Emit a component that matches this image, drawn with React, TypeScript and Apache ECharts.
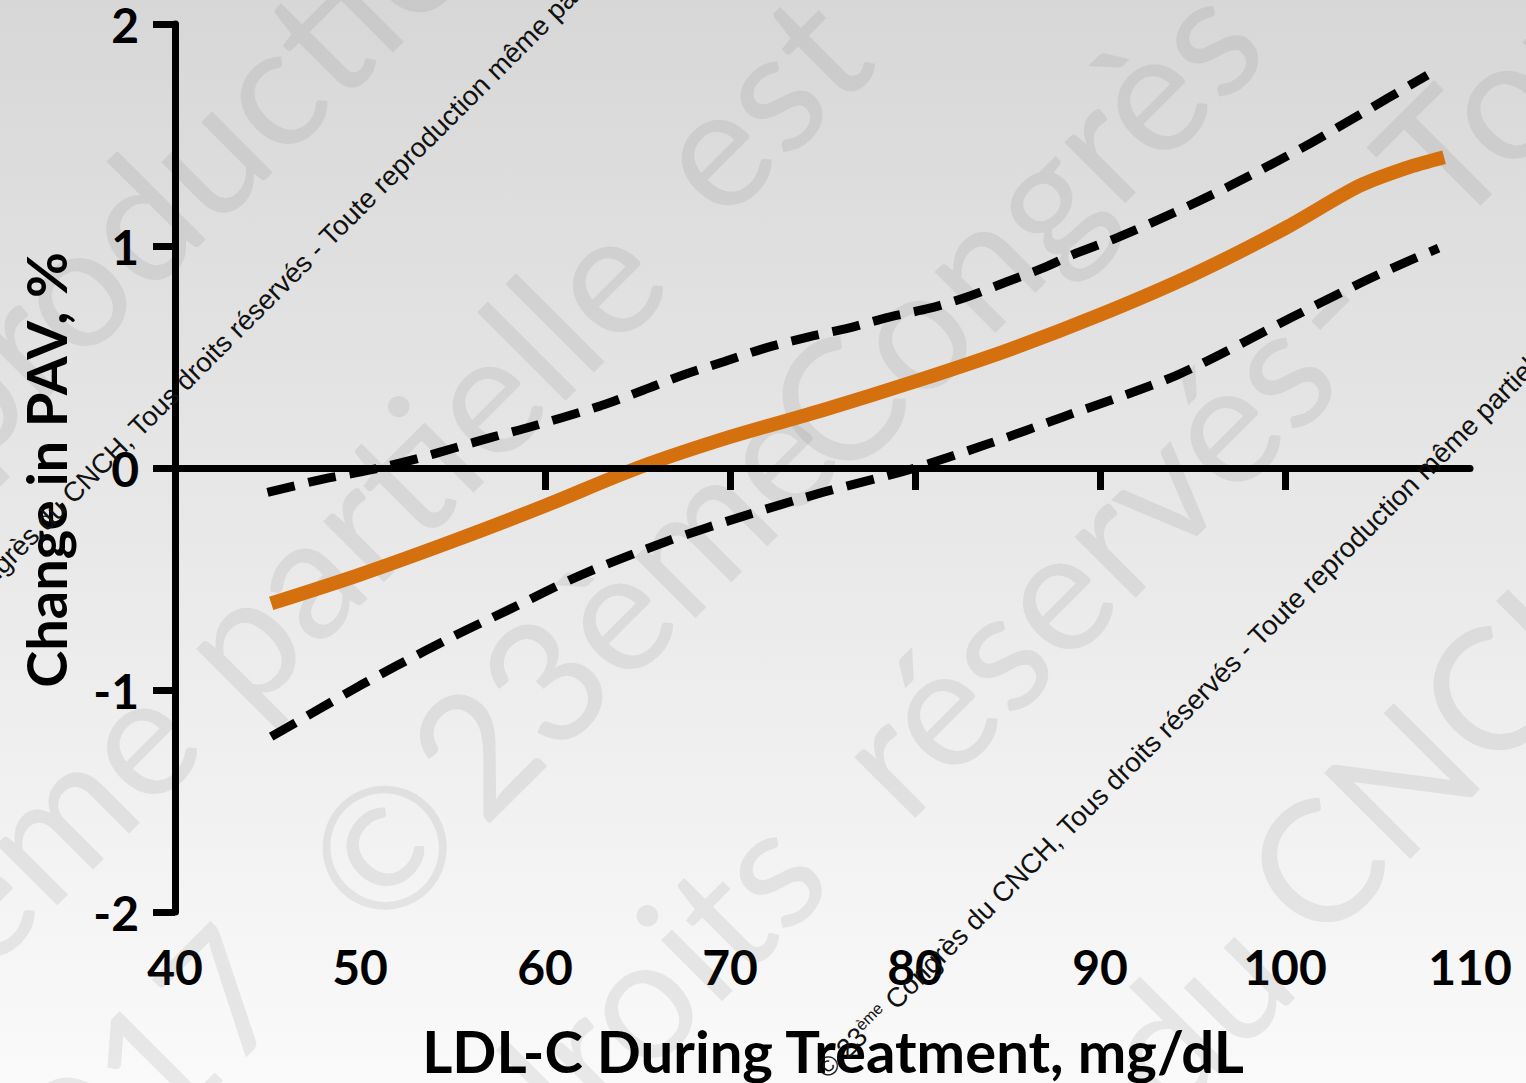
import React, { useEffect, useRef } from "react";
import * as echarts from "echarts";

// LDL-C during treatment (mg/dL) vs. change in percent atheroma volume (%)
const meanX = [45.2, 50, 55, 60, 65, 70, 75, 80, 85, 90, 95, 100, 104, 106.5, 108.6];
const meanY = [-0.61, -0.48, -0.33, -0.17, 0.0, 0.14, 0.26, 0.39, 0.53, 0.69, 0.87, 1.08, 1.27, 1.35, 1.4];

const upperX = [45, 48, 50.5, 53, 55.1, 57.2, 59, 63, 65.3, 67.5, 69.7, 71.9, 74.2, 76.4, 78.6, 80.8, 82.8, 85, 86.9, 88.5, 91, 94, 97, 101.1, 104, 107.7];
const upperY = [-0.11, -0.05, -0.01, 0.04, 0.09, 0.14, 0.18, 0.28, 0.35, 0.42, 0.48, 0.54, 0.59, 0.63, 0.68, 0.72, 0.77, 0.84, 0.9, 0.96, 1.04, 1.15, 1.27, 1.45, 1.59, 1.77];

const lowerX = [45.2, 47.5, 50, 52, 55, 58, 62, 66.6, 70.6, 75, 79.6, 84, 88, 94.2, 100.4, 104, 106.6, 108.3];
const lowerY = [-1.21, -1.1, -0.98, -0.89, -0.76, -0.64, -0.48, -0.33, -0.22, -0.11, -0.01, 0.11, 0.23, 0.42, 0.68, 0.83, 0.93, 0.99];

const xTickValues = [60, 70, 80, 90, 100];
const xTitle = "LDL-C During Treatment, mg/dL";
const yTitle = "Change in PAV, %";

const noticeText =
  "© 23{sup|ème} Congrès du CNCH, Tous droits réservés - Toute reproduction même partielle est interdite";

// large faint words laid diagonally across the slide
const bigWords: { text: string; x: number; y: number }[] = [
  { text: "reproduction", x: 160, y: 192 },
  { text: "même", x: 2, y: 867 },
  { text: "partielle", x: 416, y: 457 },
  { text: "est", x: 755, y: 100 },
  { text: "2017", x: 115, y: 1095 },
  { text: "©", x: 381, y: 844 },
  { text: "23ème", x: 620, y: 600 },
  { text: "Congrès", x: 1010, y: 225 },
  { text: "droits", x: 640, y: 990 },
  { text: "réservés", x: 1080, y: 560 },
  { text: "-", x: 1320, y: 300 },
  { text: "Toute", x: 1553, y: 40 },
  { text: "du", x: 1190, y: 1010 },
  { text: "CNCH,", x: 1458, y: 718 },
];

const pairs = (xs: number[], ys: number[]) => xs.map((x, i) => [x, ys[i]]);

export default function App() {
  const ref = useRef<HTMLDivElement>(null);

  useEffect(() => {
    if (!ref.current) return;
    const chart = echarts.init(ref.current, undefined, { renderer: "svg" });

    const bold = { fontFamily: "Lato", fontWeight: "bold" as const, color: "#000" };

    const graphics: any[] = [
      ...bigWords.map((w) => ({
        type: "text",
        x: w.x,
        y: w.y,
        rotation: Math.PI / 4,
        z: 1,
        silent: true,
        style: {
          text: w.text,
          fontFamily: "Lato",
          fontSize: 170,
          fill: "rgba(90,90,90,0.11)",
          align: "center",
          verticalAlign: "middle",
        },
      })),
      ...[
        [-98, 683],
        [831, 1083],
      ].map(([x, y]) => ({
        type: "text",
        x,
        y,
        rotation: Math.PI / 4,
        z: 100,
        silent: true,
        style: {
          text: noticeText,
          fontFamily: "Liberation Sans",
          fontSize: 27.5,
          fill: "#111",
          align: "left",
          verticalAlign: "bottom",
          rich: {
            sup: { fontFamily: "Liberation Sans", fontSize: 16, fill: "#111", verticalAlign: "top" },
          },
        },
      })),
      {
        type: "text",
        x: 45,
        y: 470,
        rotation: Math.PI / 2,
        z: 50,
        style: {
          text: yTitle,
          fontFamily: "Lato",
          fontWeight: "bold",
          fontSize: 56,
          fill: "#000",
          align: "center",
          verticalAlign: "middle",
        },
      },
      {
        type: "text",
        x: 833,
        y: 1050,
        z: 50,
        style: {
          text: xTitle,
          fontFamily: "Lato",
          fontWeight: "bold",
          fontSize: 58,
          fill: "#000",
          align: "center",
          verticalAlign: "middle",
        },
      },
    ];

    chart.setOption({
      animation: false,
      backgroundColor: {
        type: "linear",
        x: 0,
        y: 0,
        x2: 0,
        y2: 1,
        colorStops: [
          { offset: 0, color: "#d7d7d7" },
          { offset: 1, color: "#fafafa" },
        ],
      },
      grid: { left: 175, right: 56, top: 18, bottom: 171, containLabel: false },
      xAxis: [
        {
          type: "value",
          min: 40,
          max: 110,
          interval: 10,
          position: "bottom",
          z: 5,
          axisLine: { show: true, onZero: true, lineStyle: { color: "#000", width: 7 } },
          axisTick: { show: true, customValues: xTickValues, length: 22, lineStyle: { color: "#000", width: 7 } },
          axisLabel: { show: false },
          splitLine: { show: false },
        },
        {
          type: "value",
          min: 40,
          max: 110,
          interval: 10,
          position: "bottom",
          axisLine: { show: false, onZero: false },
          axisTick: { show: false },
          axisLabel: { ...bold, fontSize: 48, margin: 30 },
          splitLine: { show: false },
        },
      ],
      yAxis: {
        type: "value",
        min: -2,
        max: 2,
        interval: 1,
        z: 5,
        axisLine: { show: true, onZero: false, lineStyle: { color: "#000", width: 7 } },
        axisTick: { show: true, length: 22, lineStyle: { color: "#000", width: 7 } },
        axisLabel: { ...bold, fontSize: 48, margin: 36 },
        splitLine: { show: false },
      },
      graphic: graphics,
      series: [
        {
          type: "line",
          xAxisIndex: 0,
          data: pairs(upperX, upperY),
          smooth: 0.3,
          showSymbol: false,
          lineStyle: { color: "#000", width: 9, type: [28, 14] },
          z: 3,
        },
        {
          type: "line",
          xAxisIndex: 0,
          data: pairs(lowerX, lowerY),
          smooth: 0.3,
          showSymbol: false,
          lineStyle: { color: "#000", width: 9, type: [28, 14] },
          z: 3,
        },
        {
          type: "line",
          xAxisIndex: 0,
          data: pairs(meanX, meanY),
          smooth: 0.3,
          showSymbol: false,
          lineStyle: { color: "#d5700f", width: 14 },
          z: 4,
        },
      ],
    });

    return () => chart.dispose();
  }, []);

  return (
    <div
      ref={ref}
      style={{ position: "absolute", left: 0, top: 0, width: 1526, height: 1083, overflow: "hidden" }}
    />
  );
}
